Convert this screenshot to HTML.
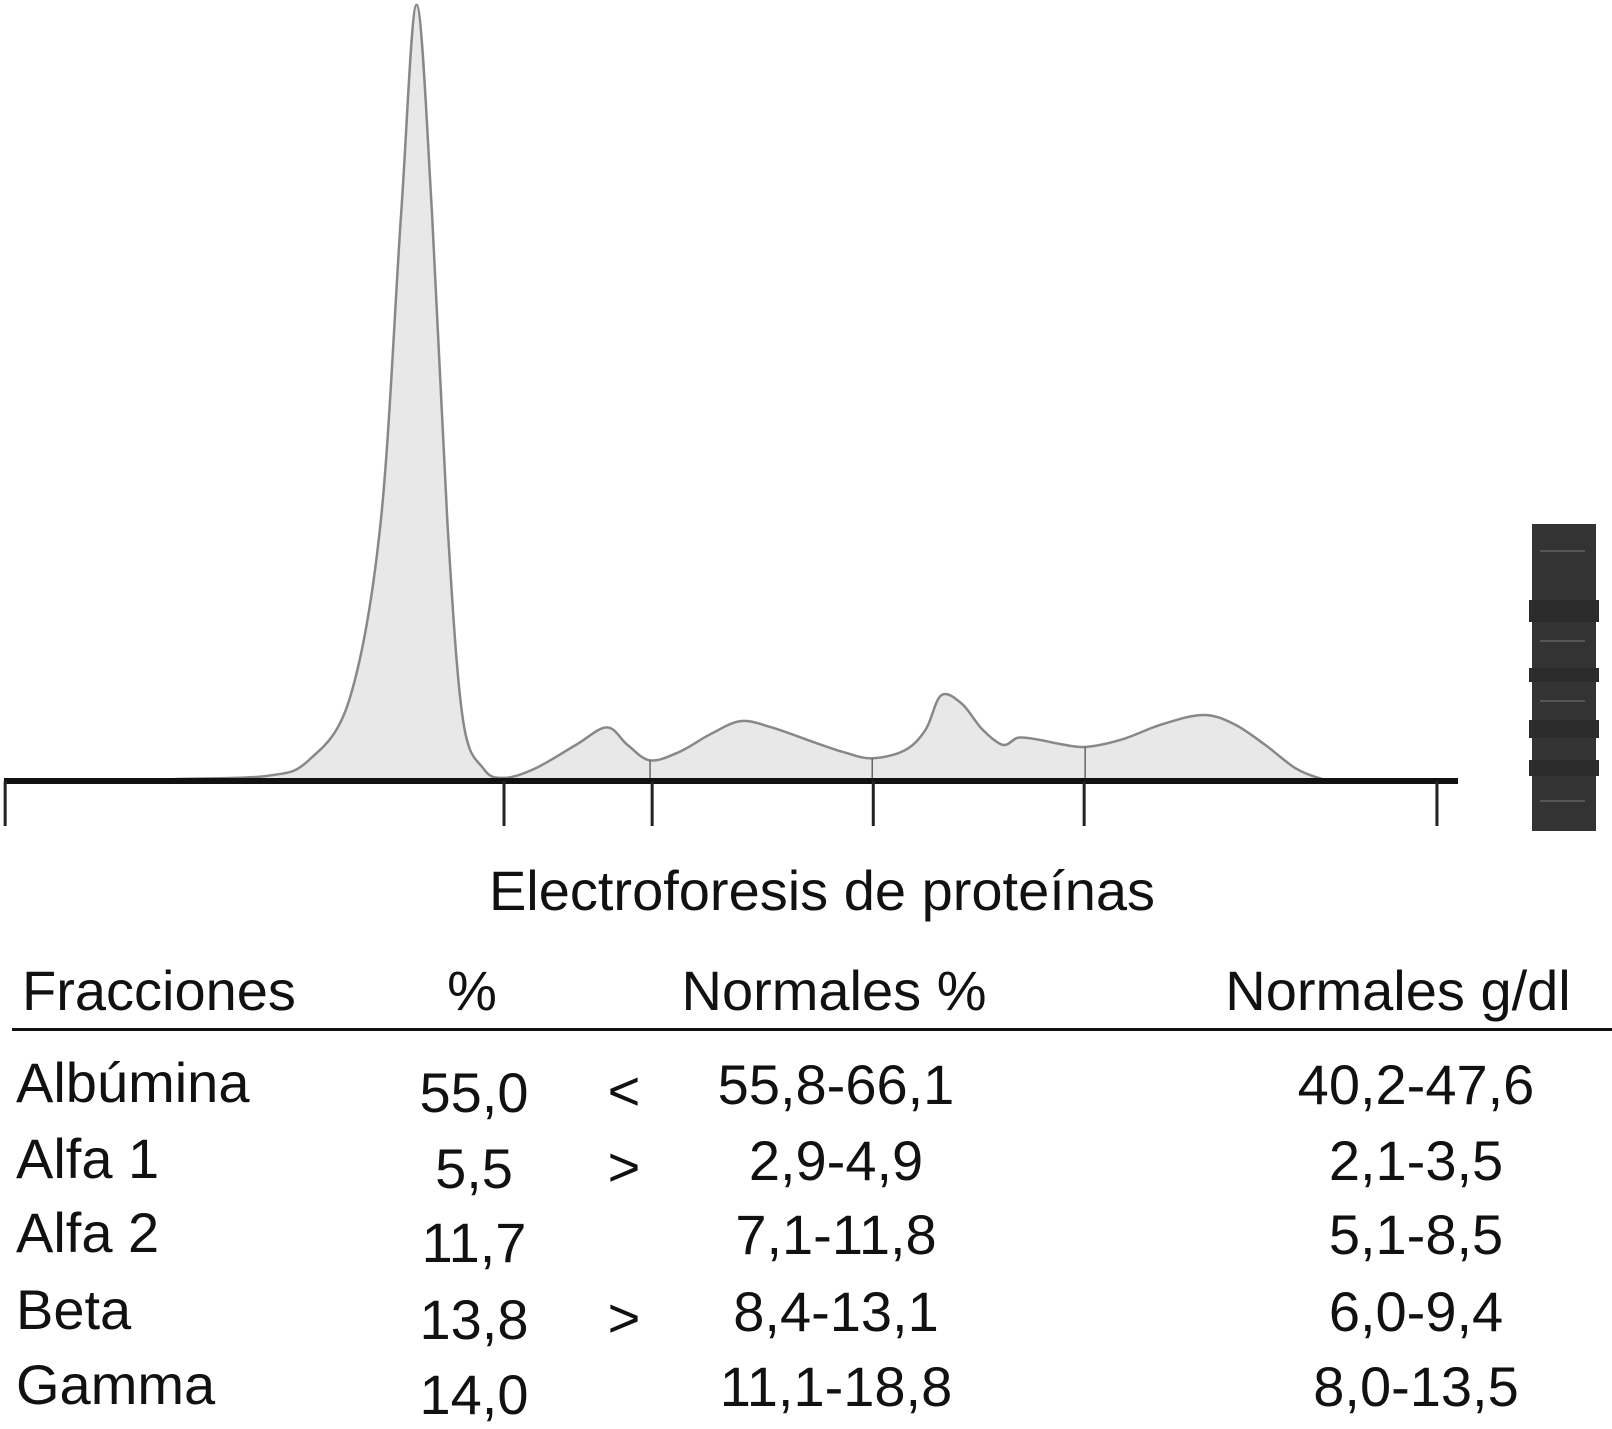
<!DOCTYPE html>
<html><head><meta charset="utf-8"><style>
html,body{margin:0;padding:0;background:#fff}
svg{display:block}
text{font-family:"Liberation Sans",Arial,sans-serif;fill:#111}
</style></head><body>
<svg id="chart" width="1612" height="1429" viewBox="0 0 1612 1429" xmlns="http://www.w3.org/2000/svg">
<g id="plot"></g>
<g>
<rect x="1532" y="524" width="64" height="307" fill="#333"/>
<rect x="1529" y="600" width="70" height="22" fill="#2c2c2c"/>
<rect x="1529" y="668" width="70" height="14" fill="#2c2c2c"/>
<rect x="1529" y="720" width="70" height="18" fill="#2c2c2c"/>
<rect x="1529" y="760" width="70" height="16" fill="#2c2c2c"/>
<rect x="1540" y="550" width="45" height="2" fill="#555"/>
<rect x="1540" y="640" width="45" height="2" fill="#555"/>
<rect x="1540" y="700" width="45" height="2" fill="#555"/>
<rect x="1540" y="800" width="45" height="2" fill="#555"/>
</g>
<text x="822" y="910" font-size="56" text-anchor="middle">Electroforesis de proteínas</text>
<g font-size="56">
<text x="22" y="1010">Fracciones</text>
<text x="472" y="1010" text-anchor="middle">%</text>
<text x="834" y="1010" text-anchor="middle">Normales %</text>
<text x="1398" y="1010" text-anchor="middle">Normales g/dl</text>
</g>
<rect x="12" y="1028" width="1600" height="3" fill="#111"/>
<g id="rows" font-size="56"></g>
</svg>
<script>
const mobility=[150,175,260,300,340,370,390,405,420,435,450,470,490,520,560,590,610,632,660,690,720,750,790,820,848,880,900,915,935,955,975,990,1010,1030,1055,1090,1130,1170,1200,1230,1260,1285,1300];
const density=[0,2,5,20,80,250,550,752,550,250,60,12,3,12,35,52,35,20,28,45,58,52,38,28,22,30,50,83,75,50,35,42,40,36,33,40,55,64,55,35,12,2,0];
const dividers=[632,848,1055];
const ticks=[5,490,634,849,1054,1397];
const names=["Albúmina","Alfa 1","Alfa 2","Beta","Gamma"];
const pct=["55,0","5,5","11,7","13,8","14,0"];
const flags=["<",">","",">",""];
const normPct=["55,8-66,1","2,9-4,9","7,1-11,8","8,4-13,1","11,1-18,8"];
const normG=["40,2-47,6","2,1-3,5","5,1-8,5","6,0-9,4","8,0-13,5"];
const K=1.032, base=781;
const X=m=>m*1.0286, Y=d=>base-d*K;
const ns="http://www.w3.org/2000/svg";
const plot=document.getElementById('plot');
function interp(m){for(let i=0;i<mobility.length-1;i++){if(m>=mobility[i]&&m<=mobility[i+1]){const t=(m-mobility[i])/(mobility[i+1]-mobility[i]);return density[i]+t*(density[i+1]-density[i]);}}return 0;}
const pts=mobility.map((m,i)=>[X(m),Y(density[i])]);
let d=`M${pts[0][0]},${base} L${pts[0][0]},${pts[0][1]}`;
for(let i=0;i<pts.length-1;i++){const p0=pts[Math.max(0,i-1)],p1=pts[i],p2=pts[i+1],p3=pts[Math.min(pts.length-1,i+2)];
const c1=[p1[0]+(p2[0]-p0[0])/6,p1[1]+(p2[1]-p0[1])/6],c2=[p2[0]-(p3[0]-p1[0])/6,p2[1]-(p3[1]-p1[1])/6];
d+=` C${c1[0]},${Math.min(base,c1[1])} ${c2[0]},${Math.min(base,c2[1])} ${p2[0]},${p2[1]}`;}
d+=` L${pts[pts.length-1][0]},${base} Z`;
const area=document.createElementNS(ns,'path');


area.setAttribute('d',d);area.setAttribute('fill','#e8e8e8');area.setAttribute('stroke','#888');area.setAttribute('stroke-width','2.5');
plot.appendChild(area);
dividers.forEach(m=>{const l=document.createElementNS(ns,'line');


l.setAttribute('x1',X(m));l.setAttribute('x2',X(m));l.setAttribute('y1',Y(interp(m)));l.setAttribute('y2',base);l.setAttribute('stroke','#666');l.setAttribute('stroke-width','1.5');plot.appendChild(l);});
const axis=document.createElementNS(ns,'rect');


axis.setAttribute('x',4);axis.setAttribute('y',base-3);axis.setAttribute('width',1454);axis.setAttribute('height',6);axis.setAttribute('fill','#111');plot.appendChild(axis);
ticks.forEach(m=>{const t=document.createElementNS(ns,'rect');


t.setAttribute('x',X(m)-1.5);t.setAttribute('y',base);t.setAttribute('width',3);t.setAttribute('height',45);t.setAttribute('fill','#222');plot.appendChild(t);});
const rows=document.getElementById('rows');
const nameY=[1102,1178,1252,1329,1404];
function txt(s,x,y,anchor,name){const e=document.createElementNS(ns,'text');


e.setAttribute('x',x);e.setAttribute('y',y);if(anchor)e.setAttribute('text-anchor',anchor);e.textContent=s;rows.appendChild(e);}
names.forEach((n,i)=>{const y=nameY[i];
txt(n,16,y,null,'fraction-name');
txt(pct[i],474,y+10,'middle','fraction-percent');
if(flags[i])txt(flags[i],624,y+8,'middle','range-flag');
txt(normPct[i],836,y+2,'middle','normal-percent-range');
txt(normG[i],1416,y+2,'middle','normal-gdl-range');});
</script>
</body></html>
